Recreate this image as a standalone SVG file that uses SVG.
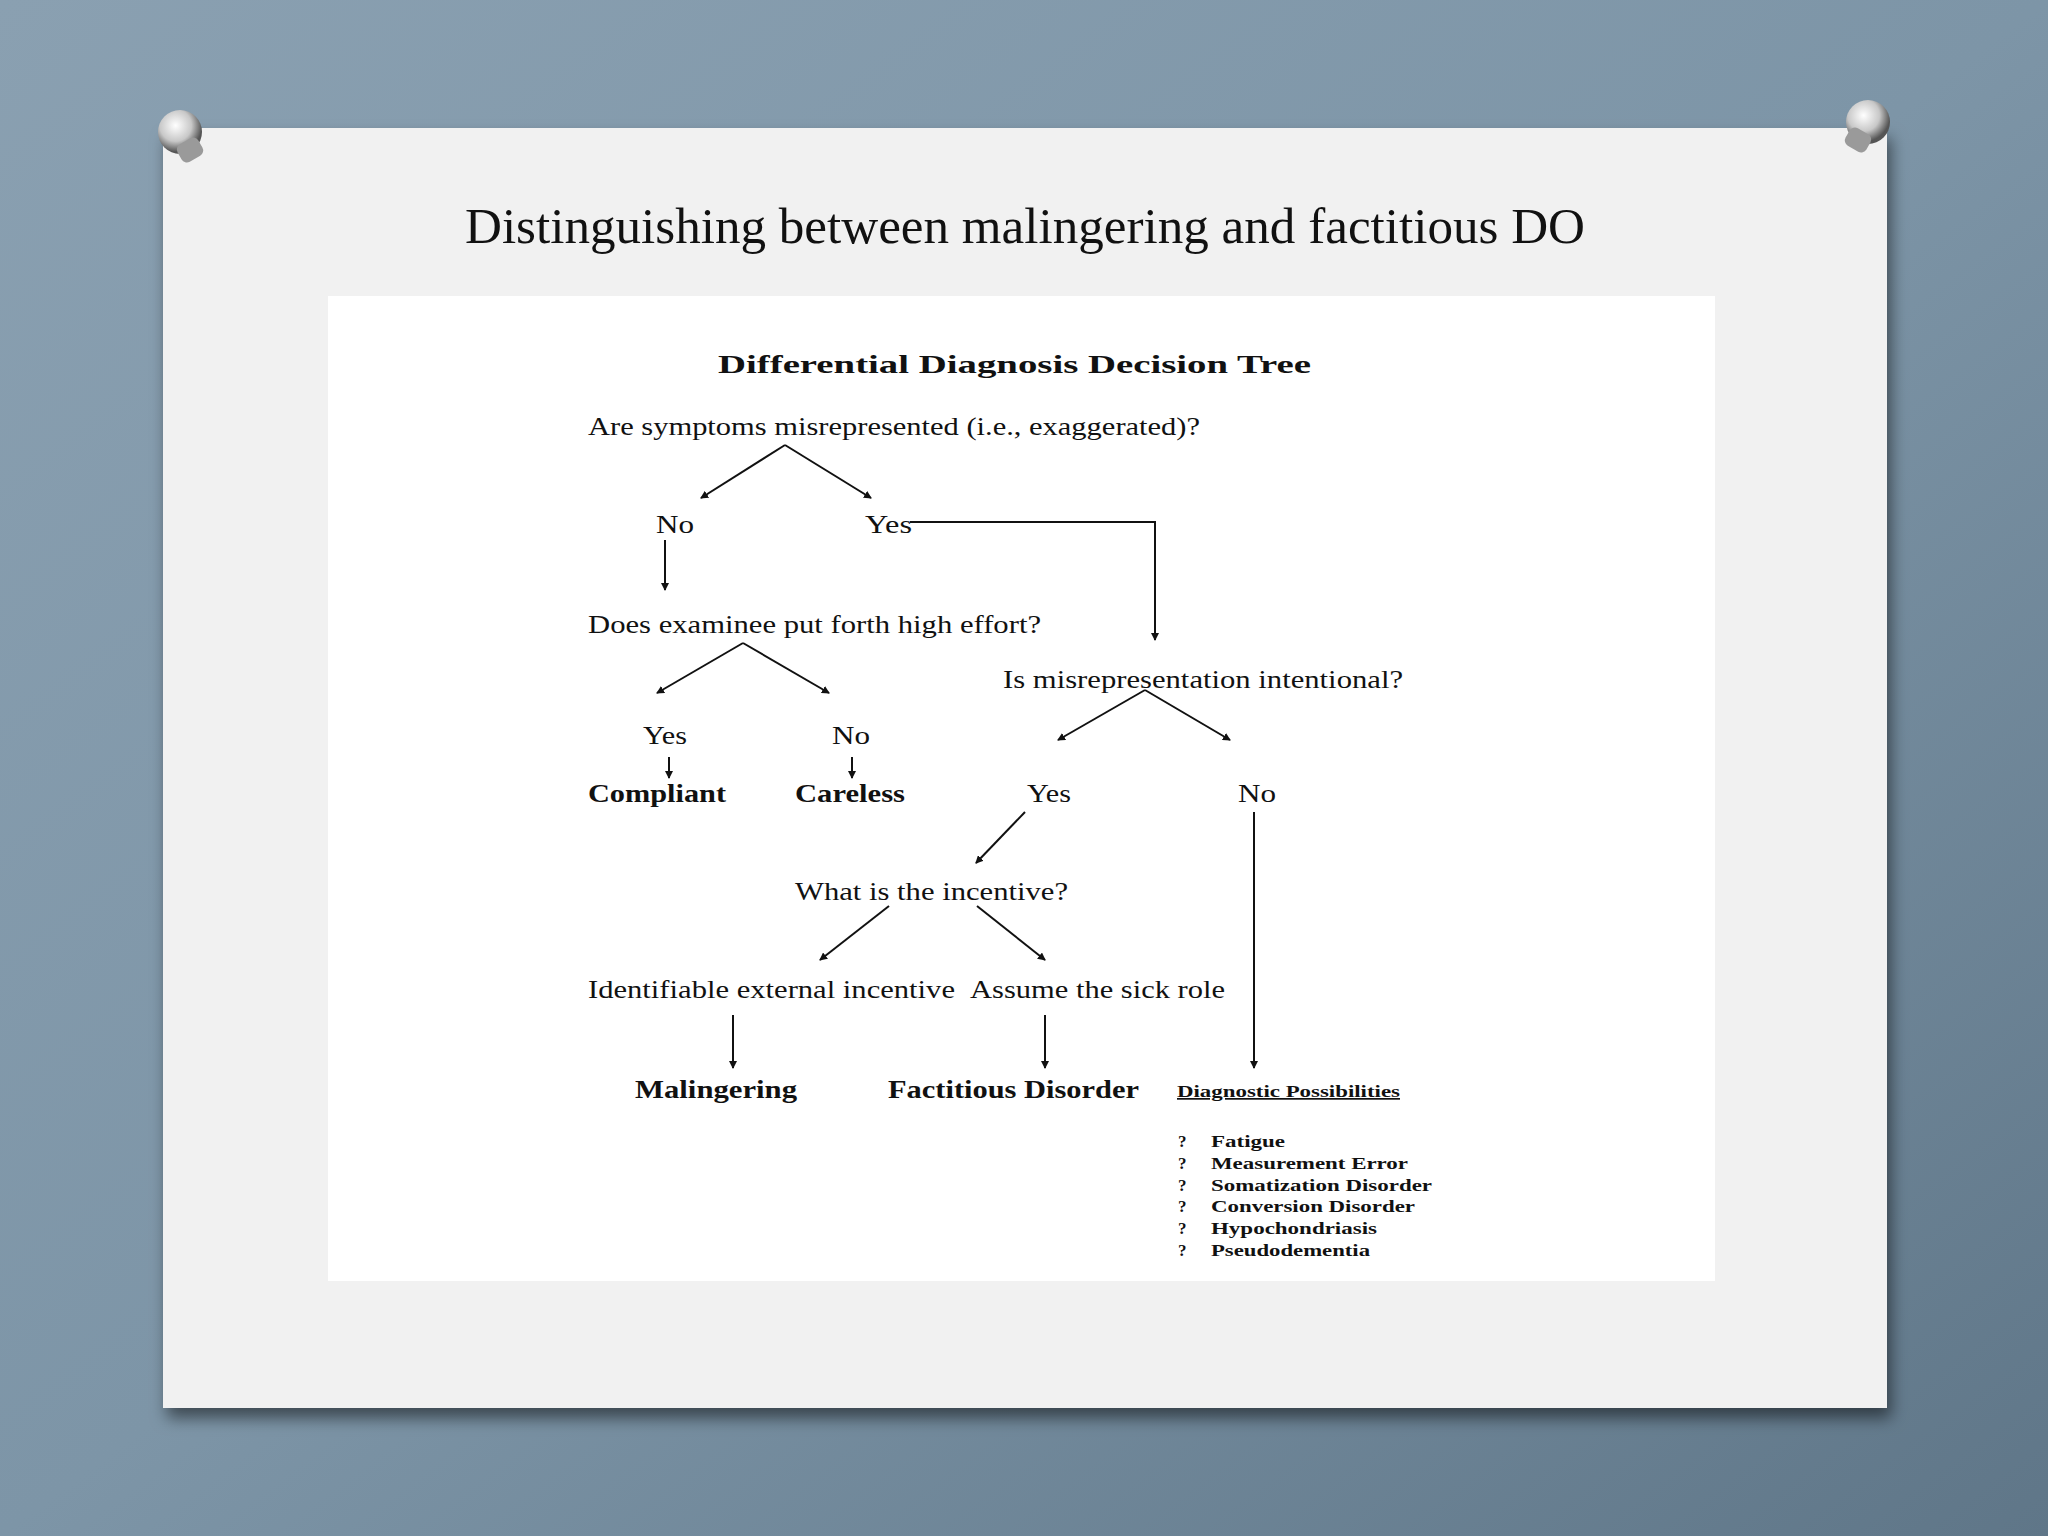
<svg xmlns="http://www.w3.org/2000/svg" width="2048" height="1536" viewBox="0 0 2048 1536">
<defs>
<linearGradient id="bg" x1="0" y1="0" x2="1" y2="1"><stop offset="0" stop-color="#8aa0b1"/><stop offset="0.5" stop-color="#7d95a7"/><stop offset="1" stop-color="#5f7688"/></linearGradient>
<radialGradient id="pin" cx="0.4" cy="0.35" r="0.6"><stop offset="0" stop-color="#ffffff"/><stop offset="0.6" stop-color="#c8c8c8"/><stop offset="1" stop-color="#555"/></radialGradient>
<filter id="sh" x="-5%" y="-5%" width="110%" height="115%"><feDropShadow dx="4" dy="10" stdDeviation="8" flood-color="#000" flood-opacity="0.5"/></filter>
<marker id="ar" markerWidth="8" markerHeight="8" refX="7" refY="4" orient="auto" markerUnits="userSpaceOnUse"><path d="M0,0 L8,4 L0,8 z" fill="#111"/></marker>
<style>
text{font-family:"Liberation Serif","Times New Roman",serif;fill:#111}
.q{font-size:25px}
.b{font-weight:bold;font-size:26px}
.s{font-weight:bold;font-size:17px}
line,polyline{stroke:#111;stroke-width:2;fill:none}
</style>
</defs>
<rect width="2048" height="1536" fill="url(#bg)"/>
<rect x="163" y="128" width="1724" height="1280" fill="#f1f1f1" filter="url(#sh)"/>
<g id="pins">
<circle cx="180" cy="132" r="22" fill="url(#pin)"/><rect x="178" y="140" width="24" height="20" rx="6" fill="#9a9a9a" transform="rotate(-30 190 150)"/>
<circle cx="1868" cy="122" r="22" fill="url(#pin)"/><rect x="1846" y="130" width="24" height="20" rx="6" fill="#9a9a9a" transform="rotate(30 1858 140)"/>
</g>
<text x="465" y="243" font-size="50" textLength="1120" lengthAdjust="spacingAndGlyphs">Distinguishing between malingering and factitious DO</text>
<rect x="328" y="296" width="1387" height="985" fill="#ffffff"/>
<text x="718" y="373" class="b" font-size="31" textLength="593" lengthAdjust="spacingAndGlyphs">Differential Diagnosis Decision Tree</text>
<g id="n1"><text x="588" y="435" class="q" textLength="612" lengthAdjust="spacingAndGlyphs">Are symptoms misrepresented (i.e., exaggerated)?</text></g>
<g id="n2"><text x="656" y="533" class="q" textLength="38" lengthAdjust="spacingAndGlyphs">No</text></g>
<g id="n3"><text x="865" y="533" class="q" textLength="47" lengthAdjust="spacingAndGlyphs">Yes</text></g>
<g id="n4"><text x="588" y="633" class="q" textLength="453" lengthAdjust="spacingAndGlyphs">Does examinee put forth high effort?</text></g>
<g id="n5"><text x="1003" y="688" class="q" textLength="400" lengthAdjust="spacingAndGlyphs">Is misrepresentation intentional?</text></g>
<g id="n6"><text x="643" y="744" class="q" textLength="44" lengthAdjust="spacingAndGlyphs">Yes</text></g>
<g id="n7"><text x="832" y="744" class="q" textLength="38" lengthAdjust="spacingAndGlyphs">No</text></g>
<g id="n8"><text x="588" y="802" class="b" textLength="138" lengthAdjust="spacingAndGlyphs">Compliant</text></g>
<g id="n9"><text x="795" y="802" class="b" textLength="110" lengthAdjust="spacingAndGlyphs">Careless</text></g>
<g id="n10"><text x="1027" y="802" class="q" textLength="44" lengthAdjust="spacingAndGlyphs">Yes</text></g>
<g id="n11"><text x="1238" y="802" class="q" textLength="38" lengthAdjust="spacingAndGlyphs">No</text></g>
<g id="n12"><text x="795" y="900" class="q" textLength="273" lengthAdjust="spacingAndGlyphs">What is the incentive?</text></g>
<g id="n13"><text x="588" y="998" class="q" textLength="367" lengthAdjust="spacingAndGlyphs">Identifiable external incentive</text></g>
<g id="n14"><text x="970" y="998" class="q" textLength="255" lengthAdjust="spacingAndGlyphs">Assume the sick role</text></g>
<g id="n15"><text x="635" y="1098" class="b" textLength="162" lengthAdjust="spacingAndGlyphs">Malingering</text></g>
<g id="n16"><text x="888" y="1098" class="b" textLength="251" lengthAdjust="spacingAndGlyphs">Factitious Disorder</text></g>
<g id="n17"><text x="1177" y="1097" class="s" font-size="16" text-decoration="underline" textLength="223" lengthAdjust="spacingAndGlyphs">Diagnostic Possibilities</text>
<text class="s" x="1178" y="1147">?</text><text class="s" x="1211" y="1147" textLength="74" lengthAdjust="spacingAndGlyphs">Fatigue</text>
<text class="s" x="1178" y="1169">?</text><text class="s" x="1211" y="1169" textLength="197" lengthAdjust="spacingAndGlyphs">Measurement Error</text>
<text class="s" x="1178" y="1191">?</text><text class="s" x="1211" y="1191" textLength="221" lengthAdjust="spacingAndGlyphs">Somatization Disorder</text>
<text class="s" x="1178" y="1212">?</text><text class="s" x="1211" y="1212" textLength="204" lengthAdjust="spacingAndGlyphs">Conversion Disorder</text>
<text class="s" x="1178" y="1234">?</text><text class="s" x="1211" y="1234" textLength="166" lengthAdjust="spacingAndGlyphs">Hypochondriasis</text>
<text class="s" x="1178" y="1256">?</text><text class="s" x="1211" y="1256" textLength="159" lengthAdjust="spacingAndGlyphs">Pseudodementia</text></g>
<g id="connectors" marker-end="url(#ar)">
<line x1="785" y1="445" x2="701" y2="498"/>
<line x1="785" y1="445" x2="871" y2="498"/>
<polyline points="910,522 1155,522 1155,640"/>
<line x1="665" y1="540" x2="665" y2="590"/>
<line x1="743" y1="643" x2="657" y2="693"/>
<line x1="743" y1="643" x2="829" y2="693"/>
<line x1="1145" y1="690" x2="1058" y2="740"/>
<line x1="1145" y1="690" x2="1230" y2="740"/>
<line x1="669" y1="757" x2="669" y2="778"/>
<line x1="852" y1="757" x2="852" y2="778"/>
<line x1="1025" y1="812" x2="976" y2="863"/>
<line x1="1254" y1="812" x2="1254" y2="1068"/>
<line x1="889" y1="906" x2="820" y2="960"/>
<line x1="977" y1="906" x2="1045" y2="960"/>
<line x1="733" y1="1015" x2="733" y2="1068"/>
<line x1="1045" y1="1015" x2="1045" y2="1068"/>
</g>
</svg>
